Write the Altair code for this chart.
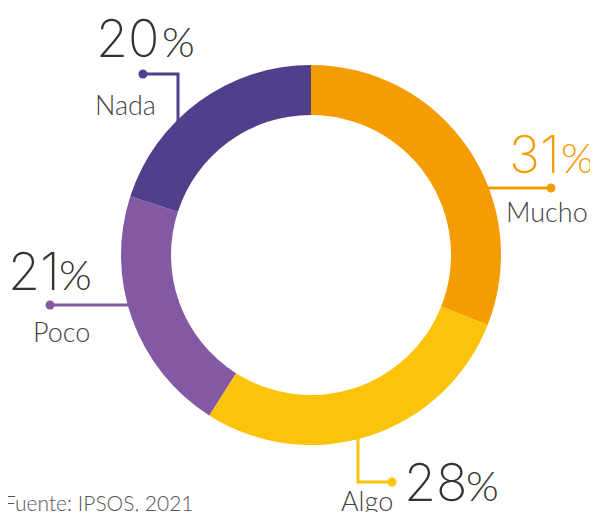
import altair as alt
import pandas as pd

# ---- data ----
categories = ["Mucho", "Algo", "Poco", "Nada"]
values = [31, 28, 21, 20]
source_text = "Fuente: IPSOS, 2021"

# ---- styles ----
slice_colors = ["#F59C00", "#FCC30B", "#8359A3", "#513F8C"]
number_colors = ["#F59C00", "#333333", "#333333", "#333333"]
name_color = "#444444"
FONT = "Lato"
NUM_FONT = "Inter"

# ---- layout (pixels relative to donut centre, y pointing up) ----
leader_paths = [
    [(165, 67), (240, 67)],
    [(47, -165), (47, -227), (81, -227)],
    [(-165, -50), (-261, -50)],
    [(-133, 98), (-133, 181), (-168, 181)],
]
number_left = [(198, 82), (93, -246), (-303, -35), (-215, 198)]
percent_left = [(250, 82), (155, -246), (-252, -35), (-149, 198)]
name_pos = [(195, 33), (30, -256), (-278, -87), (-216, 140)]
source_pos = (-307, -256)

W, H = 582, 504
CX, CY = 303, 247
xs = alt.Scale(domain=[-CX, W - CX], nice=False, zero=False)
ys = alt.Scale(domain=[-(H - CY), CY], nice=False, zero=False)

df_arc = pd.DataFrame({
    "cat": categories, "value": values, "idx": list(range(len(values))),
    "color": slice_colors, "x0": 0, "y0": 0,
})

rows = []
for i, path in enumerate(leader_paths):
    for j, (px, py) in enumerate(path):
        rows.append({"cat": categories[i], "k": j, "x": px, "y": py,
                     "color": slice_colors[i], "end": j == len(path) - 1})
df_lines = pd.DataFrame(rows)
df_dots = df_lines[df_lines["end"]]

df_num = pd.DataFrame({
    "t": [str(v) for v in values],
    "x": [p[0] for p in number_left], "y": [p[1] for p in number_left],
    "color": number_colors,
})
df_pct = pd.DataFrame({
    "t": ["%"] * len(values),
    "x": [p[0] for p in percent_left], "y": [p[1] for p in percent_left],
    "color": number_colors,
})
df_name = pd.DataFrame({
    "t": categories,
    "x": [p[0] for p in name_pos], "y": [p[1] for p in name_pos],
})
df_src = pd.DataFrame({"t": [source_text], "x": [source_pos[0]], "y": [source_pos[1]]})

X = lambda f: alt.X(f, scale=xs, axis=None)
Y = lambda f: alt.Y(f, scale=ys, axis=None)

lines = alt.Chart(df_lines).mark_line(strokeWidth=3).encode(
    x=X("x:Q"), y=Y("y:Q"), detail="cat:N", order="k:Q",
    color=alt.Color("color:N", scale=None),
)
dots = alt.Chart(df_dots).mark_circle(size=80, opacity=1).encode(
    x=X("x:Q"), y=Y("y:Q"), color=alt.Color("color:N", scale=None),
)
arc = alt.Chart(df_arc).mark_arc(radius=190, radius2=140).encode(
    theta=alt.Theta("value:Q", stack=True),
    order=alt.Order("idx:Q"),
    color=alt.Color("color:N", scale=None),
    x=X("x0:Q"), y=Y("y0:Q"),
)
nums = alt.Chart(df_num).mark_text(
    align="left", baseline="alphabetic", font=NUM_FONT, fontWeight=200, fontSize=52
).encode(x=X("x:Q"), y=Y("y:Q"), text="t:N", color=alt.Color("color:N", scale=None))
pcts = alt.Chart(df_pct).mark_text(
    align="left", baseline="alphabetic", font=FONT, fontWeight=300, fontSize=42
).encode(x=X("x:Q"), y=Y("y:Q"), text="t:N", color=alt.Color("color:N", scale=None))
names = alt.Chart(df_name).mark_text(
    align="left", baseline="alphabetic", font=FONT, fontWeight=300, fontSize=27,
    color=name_color,
).encode(x=X("x:Q"), y=Y("y:Q"), text="t:N")
src = alt.Chart(df_src).mark_text(
    align="left", baseline="alphabetic", font=FONT, fontWeight=300, fontSize=21,
    color="#555555",
).encode(x=X("x:Q"), y=Y("y:Q"), text="t:N")

chart = alt.layer(lines, dots, arc, nums, pcts, names, src).properties(
    width=W, height=H, padding=0, autosize=alt.AutoSizeParams(type="none"),
).configure_view(stroke=None)

chart.save("out.html", embed_options={"renderer": "svg", "actions": False})
